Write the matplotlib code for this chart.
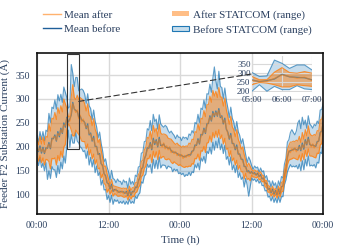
import numpy as np
import matplotlib
matplotlib.use("Agg")
import matplotlib.pyplot as plt
from matplotlib.patches import Rectangle, Patch, ConnectionPatch
from matplotlib.lines import Line2D

# feeder F2 current, 15 min samples over 48 h
mean_after = [
    195, 192, 198, 190, 196, 188, 194, 200, 206, 198, 214, 220,
    222, 214, 228, 224, 236, 230, 246, 244, 259, 254, 254, 270,
    290, 281, 272, 277, 259, 266, 252, 258, 248, 240, 244, 228,
    226, 214, 218, 204, 198, 186, 182, 168, 158, 146, 136, 128,
    120, 114, 118, 110, 108, 112, 104, 108, 104, 108, 102, 106,
    104, 100, 106, 102, 104, 108, 112, 118, 126, 138, 150, 160,
    172, 184, 194, 200, 206, 196, 214, 208, 212, 202, 216, 206,
    200, 208, 196, 202, 194, 200, 188, 192, 186, 190, 182, 186,
    180, 184, 176, 182, 178, 184, 180, 186, 188, 194, 200, 206,
    214, 208, 222, 228, 236, 230, 244, 252, 262, 256, 270, 266,
    272, 266, 276, 264, 262, 250, 256, 240, 228, 218, 224, 210,
    204, 196, 200, 188, 182, 176, 170, 162, 156, 150, 146, 148,
    145, 146, 142, 144, 142, 140, 138, 136, 132, 126, 120, 114,
    110, 106, 108, 104, 106, 102, 108, 104, 114, 120, 138, 156,
    176, 192, 188, 196, 192, 198, 190, 196, 200, 194, 204, 198,
    212, 206, 216, 208, 200, 206, 198, 204, 208, 214, 226, 236,
    248]
mean_before = [
    198, 190, 202, 187, 199, 186, 198, 197, 209, 196, 218, 217,
    225, 212, 232, 221, 239, 228, 250, 241, 262, 252, 258, 267,
    293, 279, 276, 274, 262, 264, 256, 255, 251, 238, 248, 225,
    229, 212, 222, 201, 201, 184, 186, 165, 161, 144, 140, 125,
    123, 112, 122, 107, 111, 110, 108, 105, 107, 106, 106, 103,
    107, 98, 110, 99, 107, 106, 116, 115, 129, 136, 154, 157,
    175, 182, 198, 197, 209, 194, 218, 205, 215, 200, 220, 203,
    203, 206, 200, 199, 197, 198, 192, 189, 189, 188, 186, 183,
    183, 182, 180, 179, 181, 182, 184, 183, 191, 192, 204, 203,
    217, 206, 226, 225, 239, 228, 248, 249, 265, 254, 274, 263,
    275, 264, 280, 261, 265, 248, 260, 237, 231, 216, 228, 207,
    207, 194, 204, 185, 185, 174, 174, 159, 159, 148, 150, 145,
    148, 144, 146, 141, 145, 138, 142, 133, 135, 124, 124, 111,
    113, 104, 112, 101, 109, 100, 112, 101, 117, 118, 142, 153,
    179, 190, 192, 193, 195, 196, 194, 193, 203, 192, 208, 195,
    215, 204, 220, 205, 203, 204, 202, 201, 211, 212, 230, 233,
    251]
after_hi = [
    215, 205, 222, 206, 220, 205, 222, 220, 248, 233, 260, 258,
    272, 257, 282, 270, 286, 273, 300, 290, 281, 263, 263, 305,
    330, 303, 299, 308, 299, 303, 300, 298, 290, 275, 290, 266,
    263, 244, 259, 237, 228, 209, 216, 194, 178, 159, 160, 144,
    132, 121, 132, 119, 118, 117, 116, 115, 114, 113, 114, 113,
    114, 105, 118, 109, 115, 114, 125, 126, 142, 147, 170, 172,
    194, 199, 220, 218, 233, 216, 245, 231, 239, 222, 247, 229,
    226, 227, 226, 224, 218, 217, 216, 212, 208, 205, 208, 204,
    202, 199, 202, 200, 202, 201, 208, 206, 216, 215, 232, 230,
    248, 235, 260, 258, 276, 263, 288, 288, 306, 293, 318, 306,
    316, 303, 324, 304, 304, 285, 302, 278, 264, 247, 264, 242,
    236, 221, 236, 216, 208, 195, 200, 184, 172, 159, 166, 160,
    153, 149, 152, 149, 150, 143, 148, 141, 140, 129, 130, 119,
    118, 109, 118, 109, 114, 105, 118, 109, 126, 127, 152, 165,
    194, 203, 210, 210, 212, 211, 214, 212, 222, 209, 230, 216,
    236, 223, 244, 228, 224, 223, 226, 224, 234, 233, 256, 258,
    270]
after_lo = [
    180, 170, 182, 167, 177, 162, 174, 173, 169, 154, 176, 175,
    177, 162, 182, 171, 191, 178, 200, 205, 235, 248, 244, 235,
    223, 223, 235, 230, 226, 220, 212, 211, 211, 196, 206, 183,
    194, 175, 185, 164, 173, 154, 156, 135, 143, 124, 120, 105,
    112, 101, 109, 97, 102, 101, 97, 97, 98, 97, 95, 95,
    98, 89, 99, 91, 97, 96, 104, 106, 115, 120, 138, 141,
    155, 160, 176, 175, 184, 167, 191, 178, 190, 173, 193, 176,
    179, 180, 174, 173, 175, 174, 168, 165, 169, 166, 164, 161,
    163, 160, 158, 157, 159, 158, 160, 159, 165, 164, 176, 175,
    185, 172, 192, 191, 201, 188, 208, 209, 223, 210, 230, 219,
    233, 220, 236, 217, 225, 206, 218, 195, 197, 180, 192, 171,
    177, 162, 172, 153, 161, 148, 148, 133, 145, 132, 134, 129,
    141, 137, 137, 135, 138, 131, 133, 127, 128, 117, 115, 105,
    106, 97, 103, 95, 102, 93, 103, 95, 106, 107, 129, 143,
    163, 172, 174, 175, 177, 176, 174, 173, 183, 170, 186, 173,
    193, 180, 196, 181, 181, 180, 178, 177, 187, 186, 204, 207,
    226]
before_hi = [
    224, 210, 232, 215, 232, 213, 235, 232, 270, 251, 283, 280,
    298, 279, 309, 296, 310, 293, 325, 314, 303, 281, 284, 372,
    354, 326, 345, 345, 317, 319, 321, 318, 310, 291, 311, 286,
    280, 257, 277, 254, 242, 219, 231, 208, 192, 169, 175, 158,
    148, 131, 151, 134, 132, 125, 133, 128, 128, 121, 131, 126,
    128, 113, 135, 122, 128, 121, 141, 138, 158, 159, 187, 188,
    211, 212, 238, 235, 255, 234, 268, 253, 258, 237, 267, 248,
    244, 241, 245, 242, 234, 229, 233, 228, 224, 217, 225, 220,
    220, 213, 221, 218, 220, 215, 227, 224, 234, 229, 251, 248,
    268, 251, 281, 278, 298, 281, 311, 310, 331, 314, 344, 367,
    338, 321, 358, 326, 324, 301, 323, 298, 282, 261, 283, 260,
    252, 233, 253, 232, 224, 207, 217, 200, 184, 167, 179, 172,
    161, 153, 160, 156, 158, 147, 156, 148, 150, 135, 140, 128,
    129, 116, 129, 119, 125, 112, 129, 119, 138, 135, 164, 176,
    210, 215, 230, 236, 230, 225, 233, 250, 256, 238, 262, 246,
    256, 239, 265, 248, 244, 239, 247, 244, 254, 249, 277, 278,
    290]
before_lo = [
    172, 161, 178, 157, 166, 150, 167, 132, 150, 134, 159, 152,
    152, 136, 161, 144, 168, 154, 181, 166, 199, 235, 199, 226,
    208, 208, 230, 212, 208, 200, 197, 190, 192, 176, 191, 162,
    178, 158, 173, 146, 160, 140, 147, 120, 130, 110, 111, 90,
    98, 84, 99, 80, 90, 86, 89, 82, 86, 82, 87, 80,
    86, 80, 91, 82, 86, 82, 97, 92, 100, 104, 127, 124,
    139, 143, 164, 157, 163, 145, 174, 155, 172, 154, 179, 156,
    162, 162, 161, 154, 160, 158, 157, 148, 154, 150, 153, 144,
    146, 142, 145, 138, 142, 140, 147, 140, 148, 146, 163, 156,
    166, 152, 177, 170, 180, 166, 191, 186, 199, 185, 210, 193,
    212, 198, 219, 194, 206, 186, 203, 174, 180, 162, 179, 152,
    162, 146, 161, 136, 146, 132, 137, 116, 134, 120, 97, 116,
    135, 130, 133, 127, 132, 124, 129, 119, 120, 108, 109, 95,
    97, 87, 96, 84, 93, 83, 96, 84, 96, 96, 121, 131,
    148, 156, 163, 158, 160, 158, 161, 154, 164, 150, 171, 152,
    174, 160, 181, 160, 162, 160, 163, 156, 168, 166, 189, 186,
    210]

hours = np.arange(len(mean_after)) * 0.25
y_ticks = [100, 150, 200, 250, 300, 350]
x_ticks = [0, 12, 24, 36, 48]
x_labels = ["00:00", "12:00", "00:00", "12:00", "00:00"]

BLUE = "#1f77b4"
ORANGE = "#ff7f0e"
TXT = "#2a3f5f"

plt.rcParams['font.family'] = ['Liberation Serif', 'DejaVu Serif']


def draw(a):
    a.fill_between(hours, before_lo, before_hi, color=BLUE, alpha=0.25, lw=0)
    a.plot(hours, before_lo, color=BLUE, lw=0.8, alpha=0.7)
    a.plot(hours, before_hi, color=BLUE, lw=0.8, alpha=0.7)
    a.plot(hours, mean_before, color=BLUE, lw=0.9, alpha=0.8)
    a.fill_between(hours, after_lo, after_hi, color=ORANGE, alpha=0.5, lw=0)
    a.plot(hours, after_lo, color=ORANGE, lw=0.8, alpha=0.8)
    a.plot(hours, after_hi, color=ORANGE, lw=0.8, alpha=0.8)
    a.plot(hours, mean_after, color=ORANGE, lw=1.0, alpha=0.6)


fig = plt.figure(figsize=(3.49, 2.49), dpi=100)
ax = fig.add_axes([0.106, 0.141, 0.820, 0.646])
draw(ax)
ax.set_xlim(0, 48)
ax.set_ylim(60, 396)
ax.set_xticks(x_ticks)
ax.set_xticklabels(x_labels)
ax.set_yticks(y_ticks)
ax.grid(True, color="#d9d9d9", lw=1.0)
ax.set_axisbelow(True)
ax.tick_params(length=0, labelsize=7, labelcolor=TXT, pad=5)
for s in ax.spines.values():
    s.set_color("#111111")
    s.set_linewidth(1.2)
ax.set_xlabel("Time (h)", fontsize=8, color=TXT, labelpad=4)
ax.set_ylabel("Feeder F2 Substation Current (A)", fontsize=8, color=TXT, labelpad=4)

# zoom box + inset
ax.add_patch(Rectangle((5, 195), 2, 200, fill=False, ec="#333333", lw=0.8, zorder=5))
ins = ax.inset_axes([0.751, 0.758, 0.21, 0.224])
draw(ins)
ins.set_xlim(5, 7)
ins.set_ylim(195, 395)
ins.set_xticks([5, 6, 7])
ins.set_xticklabels(["05:00", "06:00", "07:00"])
ins.set_yticks([200, 250, 300, 350])
ins.patch.set_alpha(0)
for s in ins.spines.values():
    s.set_visible(False)
ins.grid(True, color="#d9d9d9", lw=0.8)
ins.tick_params(length=0, labelsize=6.5, labelcolor=TXT, pad=1)
ins.tick_params(axis="x", pad=3)
con = ConnectionPatch(xyA=(7, 295), coordsA=ax.transData, xyB=(5, 295), coordsB=ins.transData,
                      color="#333333", lw=0.8, linestyle=(0, (5, 3)))
fig.add_artist(con)

handles = [
    Line2D([], [], color=ORANGE, alpha=0.6, lw=1.0),
    Line2D([], [], color="#1f5f99", lw=1.0),
    Patch(facecolor=ORANGE, alpha=0.5, lw=0),
    Patch(facecolor=(0.12, 0.47, 0.71, 0.25), edgecolor=BLUE, lw=0.8),
]
labels = ["Mean after", "Mean before", "After STATCOM (range)", "Before STATCOM (range)"]
leg = fig.legend(handles, labels, loc="upper left", bbox_to_anchor=(0.095, 1.0), ncol=2,
                 frameon=False, fontsize=8, handlelength=1.6, handleheight=0.35,
                 handletextpad=0.3, columnspacing=4.6, labelspacing=0.45)
for txt in leg.get_texts():
    txt.set_color(TXT)

fig.savefig("out.png", dpi=100)
